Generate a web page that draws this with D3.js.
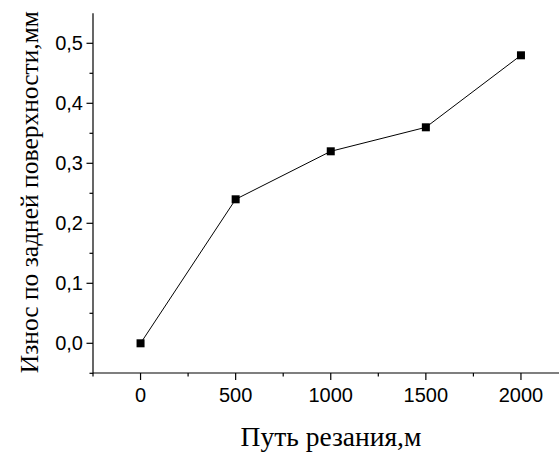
<!DOCTYPE html>
<html><head><meta charset="utf-8">
<script src="https://cdn.jsdelivr.net/npm/d3@7"></script>
<style>body{margin:0;background:#fff}
.sans{font-family:"Liberation Sans",Arial,Helvetica,sans-serif}
.serif{font-family:"Liberation Serif","Times New Roman",Times,serif}
</style>
</head><body>
<svg id="c" width="560" height="453"></svg>
<script>
const xValues = [0, 500, 1000, 1500, 2000];
const yValues = [0, 0.24, 0.32, 0.36, 0.48];
const xTicks = [0, 500, 1000, 1500, 2000];
const yTicks = [0, 0.1, 0.2, 0.3, 0.4, 0.5];
const xMinor = [-250, 250, 750, 1250, 1750];
const yMinor = [-0.05, 0.05, 0.15, 0.25, 0.35, 0.45];
const xTitle = "Путь резания,м";
const yTitle = "Износ по задней поверхности,мм";

const svg = d3.select("#c");
const x = d3.scaleLinear().domain([-250, 2200]).range([93, 559]);
const y = d3.scaleLinear().domain([-0.05, 0.55]).range([373.3, 13.3]);

const fmtY = d => d3.format(".1f")(d).replace(".", ",");

const gx = svg.append("g").attr("transform", "translate(0,373)");
gx.append("line").attr("x1", x.range()[0]).attr("x2", x.range()[1]).attr("stroke", "#000").attr("stroke-width", 1.2);
gx.selectAll(".mj").data(xTicks).join("line").attr("class","mj").attr("x1", d => x(d)).attr("x2", d => x(d)).attr("y1", 0).attr("y2", 7).attr("stroke", "#000").attr("stroke-width", 1.2);
gx.selectAll(".mn").data(xMinor).join("line").attr("class","mn").attr("x1", d => x(d)).attr("x2", d => x(d)).attr("y1", 0).attr("y2", 3.5).attr("stroke", "#000").attr("stroke-width", 1.2);
gx.selectAll(".tl").data(xTicks).join("text").attr("class","tl sans").attr("x", d => x(d)).attr("y", 29)
  .attr("text-anchor", "middle").attr("font-size", 20).text(d => d);

const gy = svg.append("g").attr("transform", "translate(93,0)");
gy.append("line").attr("y1", y.range()[0]).attr("y2", y.range()[1]).attr("stroke", "#000").attr("stroke-width", 1.2);
gy.selectAll(".mj").data(yTicks).join("line").attr("class","mj").attr("y1", d => y(d)).attr("y2", d => y(d)).attr("x1", 0).attr("x2", -6.5).attr("stroke", "#000").attr("stroke-width", 1.2);
gy.selectAll(".mn").data(yMinor).join("line").attr("class","mn").attr("y1", d => y(d)).attr("y2", d => y(d)).attr("x1", 0).attr("x2", -3.5).attr("stroke", "#000").attr("stroke-width", 1.2);
gy.selectAll(".tl").data(yTicks).join("text").attr("class","tl sans").attr("x", -10).attr("y", d => y(d) + 7)
  .attr("text-anchor", "end").attr("font-size", 20).text(fmtY);

const data = xValues.map((v, i) => [v, yValues[i]]);
svg.append("path").datum(data).attr("fill", "none").attr("stroke", "#000").attr("stroke-width", 1)
  .attr("d", d3.line().x(d => x(d[0])).y(d => y(d[1])));
svg.selectAll(".pt").data(data).join("rect").attr("class","pt")
  .attr("x", d => x(d[0]) - 4).attr("y", d => y(d[1]) - 4).attr("width", 8).attr("height", 8).attr("fill", "#000");

svg.append("text").attr("class","serif").attr("x", 331).attr("y", 445.5).attr("text-anchor", "middle")
  .attr("font-size", 27.5).text(xTitle);
svg.append("text").attr("class","serif").attr("transform", "translate(38,11) rotate(-90)").attr("text-anchor", "end")
  .attr("font-size", 25.5).text(yTitle);
</script>
</body></html>
